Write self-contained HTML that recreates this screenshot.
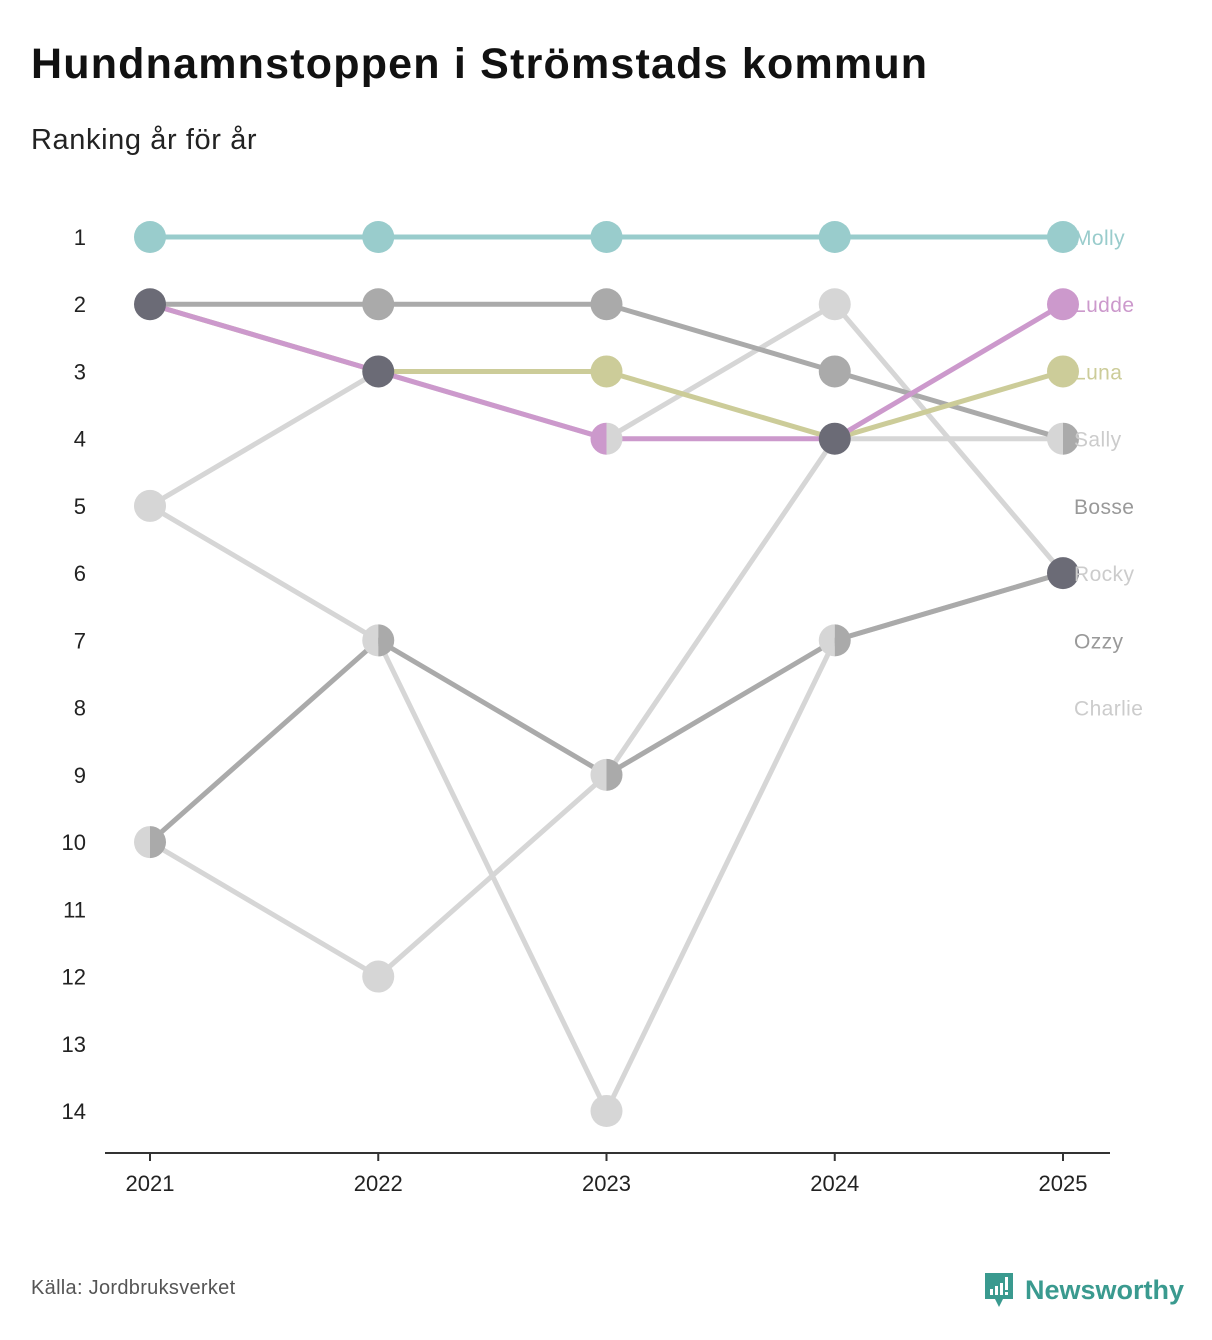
<!DOCTYPE html>
<html><head><meta charset="utf-8">
<style>
body{margin:0;background:#fff;font-family:"Liberation Sans",sans-serif;}
#wrap{position:relative;width:1212px;height:1340px;overflow:hidden}
h1{position:absolute;left:31px;top:40px;margin:0;font-size:43px;font-weight:bold;color:#111;letter-spacing:1.2px}
.sub{position:absolute;left:31px;top:124px;font-size:29px;color:#222;letter-spacing:0.6px}
.src{position:absolute;left:31px;top:1277px;font-size:20px;color:#555;letter-spacing:0.3px}
.logo{position:absolute;left:983px;top:1271px;display:flex;align-items:center;gap:10px;color:#3a9a8f;font-size:27px;font-weight:bold}
</style></head><body>
<div id="wrap">
<h1>Hundnamnstoppen i Strömstads kommun</h1>
<div class="sub">Ranking år för år</div>
<svg id="chart" width="1212" height="1340" style="position:absolute;left:0;top:0"></svg>
<div class="src">Källa: Jordbruksverket</div>
<div class="logo">
<svg width="32" height="38" viewBox="0 0 32 38"><path d="M2 2h28v26H20l-4 8-4-8H2z" fill="#3a9a8f"/><rect x="7" y="18" width="3" height="6" fill="#fff"/><rect x="12" y="15" width="3" height="9" fill="#fff"/><rect x="17" y="12" width="3" height="12" fill="#fff"/><rect x="22" y="6" width="3" height="13" fill="#fff"/><rect x="22" y="21" width="3" height="3" fill="#fff"/></svg>
<span>Newsworthy</span></div>
</div>
<script>
const years=[2021,2022,2023,2024,2025];
const names=["Molly","Ludde","Luna","Sally","Bosse","Rocky","Ozzy","Charlie"];
const molly=[1,1,1,1,1];
const ludde=[2,3,4,4,2];
const luna=[2,3,3,4,3];
const sally=[10,12,9,4,4];
const bosse=[2,2,2,3,4];
const rocky=[5,3,4,2,6];
const ozzy=[10,7,9,7,6];
const charlie=[5,7,14,7,6];
const rankTicks=[1,2,3,4,5,6,7,8,9,10,11,12,13,14];
const labelRanks=[1,2,3,4,5,6,7,8];
const series=[molly,ludde,luna,sally,bosse,rocky,ozzy,charlie];
const colors=["#99cccc","#cc99cc","#cccc99","#d6d6d6","#aaaaaa","#d6d6d6","#aaaaaa","#d6d6d6"];
const prio=[0,0,0,1,2,1,2,1];
const drawOrder=[3,5,7,4,6,2,1,0];
const svg=document.getElementById('chart');
const NS='http://www.w3.org/2000/svg';
const x=i=>150+i*(1063-150)/(years.length-1);
const y=r=>237+(r-1)*(1111-237)/13;
function mk(t,a){const e=document.createElementNS(NS,t);for(const k in a)e.setAttribute(k,a[k]);svg.appendChild(e);return e;}
let ax=mk('line',{x1:105,x2:1110,y1:1153,y2:1153,stroke:'#333','stroke-width':2});


years.forEach((yr,i)=>{
 let t=mk('line',{x1:x(i),x2:x(i),y1:1153,y2:1161,stroke:'#333','stroke-width':2});
 
 
 let l=mk('text',{x:x(i),y:1191,'text-anchor':'middle','font-size':22,fill:'#222','font-family':'Liberation Sans, sans-serif'});
 l.textContent=yr;
 
 
});
rankTicks.forEach(r=>{
 let l=mk('text',{x:86,y:y(r)+8,'text-anchor':'end','font-size':22,fill:'#222','font-family':'Liberation Sans, sans-serif'});
 l.textContent=r;
 
 
});
drawOrder.forEach(s=>{
 const pts=series[s].map((r,i)=>x(i)+','+y(r)).join(' ');
 let p=mk('polyline',{points:pts,fill:'none',stroke:colors[s],'stroke-width':5,'stroke-linejoin':'round'});
 
 
});
const R=16;
years.forEach((yr,i)=>{
 const groups={};
 series.forEach((d,s)=>{(groups[d[i]]=groups[d[i]]||[]).push(s);});
 for(const r in groups){
  const g=groups[r].slice().sort((a,b)=>prio[a]-prio[b]);
  const cx=x(i),cy=y(+r);
  if(g.length===1){
   let c=mk('circle',{cx,cy,r:R,fill:colors[g[0]]});
   
   
  }else if(g.length===2){
   let a=mk('path',{d:`M${cx},${cy-R}A${R},${R} 0 0 0 ${cx},${cy+R}Z`,fill:colors[g[0]]});
   
   
   let b=mk('path',{d:`M${cx},${cy-R}A${R},${R} 0 0 1 ${cx},${cy+R}Z`,fill:colors[g[1]]});
   
   
  }else{
   let c=mk('circle',{cx,cy,r:R,fill:'#6b6b76'});
   
   
  }
 }
});
names.forEach((n,s)=>{
 let l=mk('text',{x:1074,y:y(labelRanks[s])+8,'font-size':21,fill:s<3?colors[s]:(colors[s]==='#aaaaaa'?'#999':'#ccc'),'font-family':'Liberation Sans, sans-serif','letter-spacing':0.4});
 l.textContent=n;
 
 
});
</script>
</body></html>
